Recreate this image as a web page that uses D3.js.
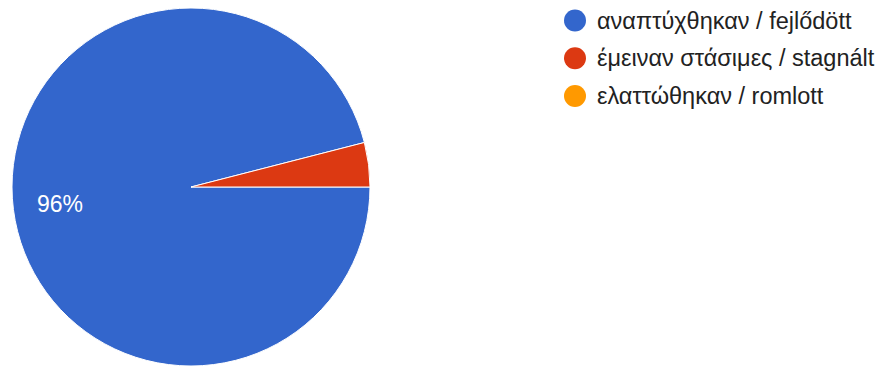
<!DOCTYPE html>
<html>
<head>
<meta charset="utf-8">
<script src="https://cdn.jsdelivr.net/npm/d3@7"></script>
<style>
  html, body { margin: 0; padding: 0; background: #fff; }
  svg { display: block; font-family: "Liberation Sans", Arial, sans-serif; }
</style>
</head>
<body>
<svg id="chart" width="885" height="367"></svg>
<script>
const categories = ["αναπτύχθηκαν / fejlődött", "έμειναν στάσιμες / stagnált", "ελαττώθηκαν / romlott"];
const values = [96, 4, 0];
const colors = ["#3366cc", "#dc3912", "#ff9900"];

const svg = d3.select("#chart");
const cx = 191, cy = 187, radius = 179;

const data = categories.map((c, i) => ({ name: c, value: values[i], color: colors[i] }));
const total = d3.sum(values);

const pie = d3.pie().value(d => d.value).sort(null)
  .startAngle(Math.PI / 2).endAngle(Math.PI / 2 + 2 * Math.PI);
const arcs = pie(data);

const arc = d3.arc().innerRadius(0).outerRadius(radius);
const labelArc = d3.arc().innerRadius(132).outerRadius(132);

const g = svg.append("g").attr("transform", `translate(${cx},${cy})`);

g.selectAll("path")
  .data(arcs.filter(d => d.data.value > 0))
  .join("path")
  .attr("d", arc)
  .attr("fill", d => d.data.color)
  .attr("stroke", "#fff")
  .attr("stroke-width", 1);

const fmt = d3.format(".0%");
g.selectAll("text.lbl")
  .data(arcs.filter(d => d.data.value / total >= 0.05))
  .join("text")
  .attr("class", "lbl")
  .attr("x", d => labelArc.centroid(d)[0])
  .attr("y", d => labelArc.centroid(d)[1])
  .attr("text-anchor", "middle")
  .attr("dominant-baseline", "central")
  .attr("fill", "#fff")
  .attr("font-size", 23)
  .text(d => fmt(d.data.value / total));

const legendY = d3.scalePoint().domain(categories).range([20.5, 96]);
const lg = svg.append("g");
const items = lg.selectAll("g").data(data).join("g")
  .attr("transform", d => `translate(575,${legendY(d.name)})`);
items.append("circle").attr("r", 11).attr("fill", d => d.color);
items.append("text")
  .attr("x", 22)
  .attr("dominant-baseline", "central")
  .attr("font-size", 23.5)
  .attr("fill", "#222")
  .text(d => d.name);
</script>
</body>
</html>
